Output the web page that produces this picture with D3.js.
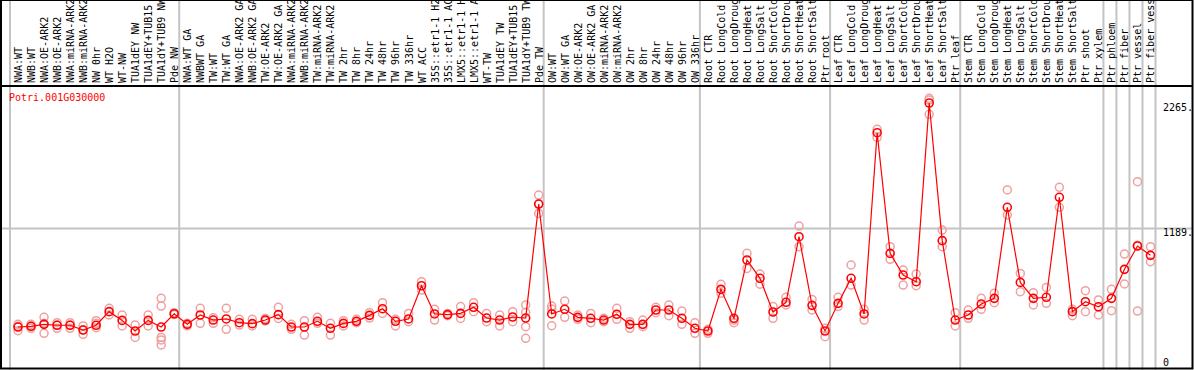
<html>
    <head>
        <style>
        body {
            margin: 0;
            background: white;
        }
        svg text {
            font-family: "DejaVu Sans Mono", monospace;
            font-size: 10px;
        }
        </style>
    </head>
    <body>
        <div id="plot"></div>
        <script src="https://d3js.org/d3.v7.min.js"></script>
        <script>

            let geneId = "Potri.001G030000"

            let labels = [
                "NWA:WT", "NWB:WT", "NWA:OE-ARK2", "NWB:OE-ARK2", "NWA:miRNA-ARK2", "NWB:miRNA-ARK2",
                "NW 0hr", "WT H2O", "WT-NW", "TUA1dEY NW", "TUA1dEY+TUB15", "TUA1dY+TUB9 NW", "Pde NW",
                "NWA:WT GA", "NWBWT GA", "TW:WT", "TW:WT GA", "NWA:OE-ARK2 GA", "NWB:OE-ARK2 GA",
                "TW:OE-ARK2", "TW:OE-ARK2 GA", "NWA:miRNA-ARK2", "NWB:miRNA-ARK2", "TW:miRNA-ARK2", "TW:miRNA-ARK2",
                "TW 2hr", "TW 8hr", "TW 24hr", "TW 48hr", "TW 96hr", "TW 336hr", "WT ACC",
                "35S::etr1-1 H2", "35S::etr1-1 AC", "LMX5::etr1-1 H", "LMX5::etr1-1 A", "WT-TW",
                "TUA1dEY TW", "TUA1dEY+TUB15", "TUA1dY+TUB9 TW", "Pde TW",
                "OW:WT", "OW:WT GA", "OW:OE-ARK2", "OW:OE-ARK2 GA", "OW:miRNA-ARK2", "OW:miRNA-ARK2",
                "OW 2hr", "OW 8hr", "OW 24hr", "OW 48hr", "OW 96hr", "OW 336hr",
                "Root CTR", "Root LongCold", "Root LongDroug", "Root LongHeat", "Root LongSalt",
                "Root ShortCold", "Root ShortDrou", "Root ShortHeat", "Root ShortSalt", "Ptr root",
                "Leaf CTR", "Leaf LongCold", "Leaf LongDroug", "Leaf LongHeat", "Leaf LongSalt",
                "Leaf ShortCold", "Leaf ShortDrou", "Leaf ShortHeat", "Leaf ShortSalt", "Ptr leaf",
                "Stem CTR", "Stem LongCold", "Stem LongDroug", "Stem LongHeat", "Stem LongSalt",
                "Stem ShortCold", "Stem ShortDrou", "Stem ShortHeat", "Stem ShortSalt", "Ptr shoot", "Ptr xylem",
                "Ptr phloem", "Ptr fiber", "Ptr vessel", "Ptr fiber vess"
            ]

            // sample index where each tissue group begins
            let groupStarts = [0, 13, 41, 53, 63, 73, 84, 85, 86, 87, 88]

            let means = [
                343, 349, 366, 358, 358, 317, 358, 475, 400, 309, 400, 343, 457,
                366, 446, 403, 412, 380, 372, 403, 449, 343, 343, 392, 332, 374, 392, 443,
                500, 392, 412, 697, 455, 449, 460, 512, 420, 403, 429, 420, 1398,
                455, 495, 426, 418, 403, 452, 366, 366, 489, 489, 418, 332,
                309, 666, 418, 918, 761, 472, 555, 1118, 529, 309,
                546, 761, 455, 2010, 975, 789, 732, 2265, 1084, 403,
                446, 540, 589, 1370, 726, 589, 598, 1456, 475, 560, 517,
                589, 838, 1038, 958
            ]

            let reps = [
                [366, 312, 350], [366, 332, 350], [426, 375, 289], [380, 332, 360], [380, 332, 360],
                [352, 280, 320], [397, 375, 337], [503, 446], [446, 352], [360, 254], [446, 352],
                [589, 523, 254, 232, 189], [466, 450],
                [375, 352], [503, 375], [423, 375], [503, 323], [409, 360], [409, 352], [417, 395],
                [512, 417], [366, 323], [397, 274], [426, 375], [375, 274], [397, 352], [409, 380],
                [466, 420], [552, 460], [409, 352], [460, 389], [732, 660], [495, 403], [460, 440],
                [518, 417], [552, 475], [460, 389], [446, 352], [475, 389], [532, 469, 346, 246],
                [1475, 1398, 1318],
                [523, 497, 354], [566, 426], [446, 409], [460, 380], [418, 389], [503, 409],
                [389, 332], [403, 346], [512, 466], [532, 440], [480, 366], [380, 289],
                [323, 289], [710, 632], [403, 380], [975, 846], [798, 710], [518, 418], [598, 532],
                [1209, 1032], [580, 489], [332, 260],
                [598, 518], [875, 703], [495, 403], [2039, 1970], [1032, 924], [832, 703], [798, 698],
                [2305, 2290, 2168], [1175, 1032], [466, 352],
                [489, 418], [589, 495], [632, 552], [1519, 1304], [803, 646], [638, 532], [683, 546],
                [1542, 1370], [495, 440], [655, 475], [575, 446],
                [666, 483], [969, 712], [1590, 1044, 480], [1032, 903]
            ]

            let yTicks = [2265, 1189, 0]

            let width = 1194
            let height = 370
            let headerBottom = 86

            let svg = d3.select("#plot")
                .append("svg")
                .attr("width", width)
                .attr("height", height)

            let x = d3.scaleBand()
                .domain(d3.range(labels.length))
                .range([10, 1155.5])

            let y = d3.scaleLinear()
                .domain([0, 2265])
                .range([367, 103])

            let cx = i => x(i) + x.bandwidth() / 2 + 1.5

            // grey separators between tissue groups
            svg.append("g")
                .selectAll("line")
                .data(groupStarts)
                .join("line")
                .attr("x1", d => d < labels.length ? x(d) : x(labels.length - 1) + x.bandwidth())
                .attr("x2", d => d < labels.length ? x(d) : x(labels.length - 1) + x.bandwidth())
                .attr("y1", 0)
                .attr("y2", height)
                .attr("stroke", "#c4c4c4")
                .attr("stroke-width", 2)

            // horizontal grid at the middle tick
            svg.append("line")
                .attr("x1", 1)
                .attr("x2", 1192)
                .attr("y1", y(1189))
                .attr("y2", y(1189))
                .attr("stroke", "#c4c4c4")
                .attr("stroke-width", 2)

            // sample names
            svg.append("g")
                .selectAll("text")
                .data(labels)
                .join("text")
                .attr("transform", (d, i) => `translate(${x(i) + 12}, 83) rotate(-90)`)
                .attr("fill", "black")
                .text(d => d)

            svg.append("line")
                .attr("x1", 1)
                .attr("x2", 1192)
                .attr("y1", headerBottom)
                .attr("y2", headerBottom)
                .attr("stroke", "black")
                .attr("stroke-width", 2)

            svg.append("rect")
                .attr("x", 1)
                .attr("y", 0)
                .attr("width", 1191.5)
                .attr("height", 368.5)
                .attr("fill", "none")
                .attr("stroke", "black")
                .attr("stroke-width", 2)

            svg.append("text")
                .attr("x", 9)
                .attr("y", 101)
                .attr("fill", "red")
                .text(geneId)

            // y labels on the right, clamped into the box
            svg.append("g")
                .selectAll("text")
                .data(yTicks)
                .join("text")
                .attr("x", 1163)
                .attr("y", d => Math.min(y(d) + 8, 365.5))
                .attr("fill", "black")
                .text(d => d === 0 ? "0" : d + ".")

            // replicate circles
            let repData = []
            reps.forEach((r, i) => r.forEach(v => repData.push({i: i, v: v})))

            svg.append("g")
                .selectAll("circle")
                .data(repData)
                .join("circle")
                .attr("cx", d => cx(d.i))
                .attr("cy", d => y(d.v))
                .attr("r", 4)
                .attr("fill", "none")
                .attr("stroke", "#f0a0a0")
                .attr("stroke-width", 1.5)

            let line = d3.line()
                .x((d, i) => cx(i))
                .y(d => y(d))

            svg.append("path")
                .datum(means)
                .attr("d", line)
                .attr("fill", "none")
                .attr("stroke", "red")
                .attr("stroke-width", 1.2)

            svg.append("g")
                .selectAll("circle")
                .data(means)
                .join("circle")
                .attr("cx", (d, i) => cx(i))
                .attr("cy", d => y(d))
                .attr("r", 4)
                .attr("fill", "none")
                .attr("stroke", "red")
                .attr("stroke-width", 1.6)

        </script>
    </body>
</html>
